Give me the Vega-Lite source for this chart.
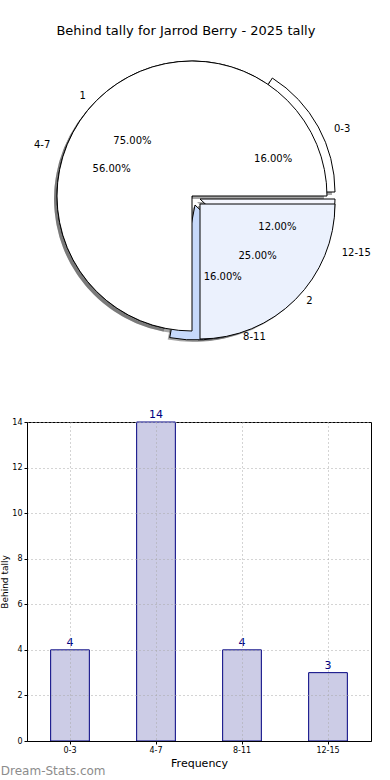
{
  "$schema": "https://vega.github.io/schema/vega-lite/v6.json",
  "padding": {"top": 25, "left": 0, "right": 0, "bottom": 0},
  "bounds": "flush",
  "spacing": 76,
  "title": {"text": "Behind tally for Jarrod Berry - 2025 tally", "fontSize": 13, "font": "DejaVu Sans", "fontWeight": "normal", "color": "black", "offset": 8, "anchor": "middle"},
  "datasets": {
    "outer": [
      {"idx": 1, "label": "0-3", "count": 4, "share": 0.16},
      {"idx": 2, "label": "4-7", "count": 14, "share": 0.56},
      {"idx": 3, "label": "8-11", "count": 4, "share": 0.16},
      {"idx": 4, "label": "12-15", "count": 3, "share": 0.12}
    ],
    "inner": [
      {"idx": 1, "label": "1", "count": 3, "share": 0.75},
      {"idx": 2, "label": "2", "count": 1, "share": 0.25}
    ]
  },
  "config": {"view": {"stroke": null}, "font": "DejaVu Sans"},
  "vconcat": [
    {
      "width": 330,
      "height": 300,
      "resolve": {"scale": {"theta": "independent", "fill": "independent"}},
      "layer": [
        {"data": {"name": "outer"}, "mark": {"type": "arc", "outerRadius": 135, "fill": "#4d4d4d", "xOffset": -3, "yOffset": 3},
         "encoding": {"theta": {"field": "count", "type": "quantitative", "stack": true, "scale": {"range": [1.5707963, -4.712389]}}, "order": {"field": "idx", "type": "quantitative"}, "detail": {"field": "label"},
           "opacity": {"condition": {"test": "datum.label === '4-7'", "value": 0.5}, "value": 0}}},
        {"data": {"name": "outer"}, "mark": {"type": "arc", "outerRadius": 135, "fill": "#4d4d4d", "xOffset": 5, "yOffset": -1},
         "encoding": {"theta": {"field": "count", "type": "quantitative", "stack": true, "scale": {"range": [1.5707963, -4.712389]}}, "order": {"field": "idx", "type": "quantitative"}, "detail": {"field": "label"},
           "opacity": {"condition": {"test": "datum.label === '0-3'", "value": 0.5}, "value": 0}}},
        {"data": {"name": "outer"}, "mark": {"type": "arc", "outerRadius": 135, "fill": "#4d4d4d", "xOffset": 1, "yOffset": 11},
         "encoding": {"theta": {"field": "count", "type": "quantitative", "stack": true, "scale": {"range": [1.5707963, -4.712389]}}, "order": {"field": "idx", "type": "quantitative"}, "detail": {"field": "label"},
           "opacity": {"condition": {"test": "datum.label === '8-11'", "value": 0.5}, "value": 0}}},
        {"data": {"name": "outer"}, "mark": {"type": "arc", "outerRadius": 135, "fill": "#4d4d4d", "xOffset": 5, "yOffset": 6},
         "encoding": {"theta": {"field": "count", "type": "quantitative", "stack": true, "scale": {"range": [1.5707963, -4.712389]}}, "order": {"field": "idx", "type": "quantitative"}, "detail": {"field": "label"},
           "opacity": {"condition": {"test": "datum.label === '12-15'", "value": 0.5}, "value": 0}}},
        {"data": {"name": "inner"}, "mark": {"type": "arc", "outerRadius": 135, "fill": "#4d4d4d", "xOffset": -3, "yOffset": 3},
         "encoding": {"theta": {"field": "count", "type": "quantitative", "stack": true, "scale": {"range": [1.5707963, -4.712389]}}, "order": {"field": "idx", "type": "quantitative"}, "detail": {"field": "label"},
           "opacity": {"condition": {"test": "datum.label === '1'", "value": 0.5}, "value": 0}}},
        {"data": {"name": "inner"}, "mark": {"type": "arc", "outerRadius": 135, "fill": "#4d4d4d", "xOffset": 6, "yOffset": 10},
         "encoding": {"theta": {"field": "count", "type": "quantitative", "stack": true, "scale": {"range": [1.5707963, -4.712389]}}, "order": {"field": "idx", "type": "quantitative"}, "detail": {"field": "label"},
           "opacity": {"condition": {"test": "datum.label === '2'", "value": 0.5}, "value": 0}}},

        {"data": {"name": "outer"}, "mark": {"type": "arc", "outerRadius": 135, "stroke": "black", "strokeWidth": 1},
         "encoding": {"theta": {"field": "count", "type": "quantitative", "stack": true, "scale": {"range": [1.5707963, -4.712389]}}, "order": {"field": "idx", "type": "quantitative"}, "detail": {"field": "label"},
           "fill": {"field": "label", "type": "nominal", "legend": null, "scale": {"domain": ["0-3", "4-7", "8-11", "12-15"], "range": ["#ffffff", "#ffffff", "#c6d9fb", "#f4f6fe"]}},
           "opacity": {"condition": {"test": "datum.label === '4-7'", "value": 1}, "value": 0}}},
        {"data": {"name": "outer"}, "mark": {"type": "arc", "outerRadius": 135, "stroke": "black", "strokeWidth": 1, "xOffset": 8, "yOffset": -4},
         "encoding": {"theta": {"field": "count", "type": "quantitative", "stack": true, "scale": {"range": [1.5707963, -4.712389]}}, "order": {"field": "idx", "type": "quantitative"}, "detail": {"field": "label"},
           "fill": {"field": "label", "type": "nominal", "legend": null, "scale": {"domain": ["0-3", "4-7", "8-11", "12-15"], "range": ["#ffffff", "#ffffff", "#c6d9fb", "#f4f6fe"]}},
           "opacity": {"condition": {"test": "datum.label === '0-3'", "value": 1}, "value": 0}}},
        {"data": {"name": "outer"}, "mark": {"type": "arc", "outerRadius": 135, "stroke": "black", "strokeWidth": 1, "xOffset": 3, "yOffset": 9},
         "encoding": {"theta": {"field": "count", "type": "quantitative", "stack": true, "scale": {"range": [1.5707963, -4.712389]}}, "order": {"field": "idx", "type": "quantitative"}, "detail": {"field": "label"},
           "fill": {"field": "label", "type": "nominal", "legend": null, "scale": {"domain": ["0-3", "4-7", "8-11", "12-15"], "range": ["#ffffff", "#ffffff", "#c6d9fb", "#f4f6fe"]}},
           "opacity": {"condition": {"test": "datum.label === '8-11'", "value": 1}, "value": 0}}},
        {"data": {"name": "outer"}, "mark": {"type": "arc", "outerRadius": 135, "stroke": "black", "strokeWidth": 1, "xOffset": 8, "yOffset": 3},
         "encoding": {"theta": {"field": "count", "type": "quantitative", "stack": true, "scale": {"range": [1.5707963, -4.712389]}}, "order": {"field": "idx", "type": "quantitative"}, "detail": {"field": "label"},
           "fill": {"field": "label", "type": "nominal", "legend": null, "scale": {"domain": ["0-3", "4-7", "8-11", "12-15"], "range": ["#ffffff", "#ffffff", "#c6d9fb", "#f4f6fe"]}},
           "opacity": {"condition": {"test": "datum.label === '12-15'", "value": 1}, "value": 0}}},
        {"data": {"name": "inner"}, "mark": {"type": "arc", "outerRadius": 135, "stroke": "black", "strokeWidth": 1},
         "encoding": {"theta": {"field": "count", "type": "quantitative", "stack": true, "scale": {"range": [1.5707963, -4.712389]}}, "order": {"field": "idx", "type": "quantitative"}, "detail": {"field": "label"},
           "fill": {"field": "label", "type": "nominal", "legend": null, "scale": {"domain": ["1", "2"], "range": ["#ffffff", "#ebf1fd"]}},
           "opacity": {"condition": {"test": "datum.label === '1'", "value": 1}, "value": 0}}},
        {"data": {"name": "inner"}, "mark": {"type": "arc", "outerRadius": 135, "stroke": "black", "strokeWidth": 1, "xOffset": 8, "yOffset": 8},
         "encoding": {"theta": {"field": "count", "type": "quantitative", "stack": true, "scale": {"range": [1.5707963, -4.712389]}}, "order": {"field": "idx", "type": "quantitative"}, "detail": {"field": "label"},
           "fill": {"field": "label", "type": "nominal", "legend": null, "scale": {"domain": ["1", "2"], "range": ["#ffffff", "#ebf1fd"]}},
           "opacity": {"condition": {"test": "datum.label === '2'", "value": 1}, "value": 0}}},

        {"data": {"name": "outer"}, "mark": {"type": "text", "radius": 146, "align": "right", "baseline": "middle", "fontSize": 10, "color": "black", "dx": -6, "dy": 3},
         "encoding": {"theta": {"field": "count", "type": "quantitative", "stack": true, "scale": {"range": [1.5707963, -4.712389]}}, "order": {"field": "idx", "type": "quantitative"}, "detail": {"field": "label"},
           "text": {"condition": {"test": "datum.label === '4-7'", "field": "label", "type": "nominal"}, "value": ""}}},
        {"data": {"name": "outer"}, "mark": {"type": "text", "radius": 146, "align": "left", "baseline": "middle", "fontSize": 10, "color": "black", "dx": 14, "dy": 3},
         "encoding": {"theta": {"field": "count", "type": "quantitative", "stack": true, "scale": {"range": [1.5707963, -4.712389]}}, "order": {"field": "idx", "type": "quantitative"}, "detail": {"field": "label"},
           "text": {"condition": {"test": "datum.label === '0-3'", "field": "label", "type": "nominal"}, "value": ""}}},
        {"data": {"name": "outer"}, "mark": {"type": "text", "radius": 146, "align": "left", "baseline": "middle", "fontSize": 10, "color": "black", "dx": 6, "dy": 2},
         "encoding": {"theta": {"field": "count", "type": "quantitative", "stack": true, "scale": {"range": [1.5707963, -4.712389]}}, "order": {"field": "idx", "type": "quantitative"}, "detail": {"field": "label"},
           "text": {"condition": {"test": "datum.label === '8-11'", "field": "label", "type": "nominal"}, "value": ""}}},
        {"data": {"name": "outer"}, "mark": {"type": "text", "radius": 146, "align": "left", "baseline": "middle", "fontSize": 10, "color": "black", "dx": 14, "dy": 3},
         "encoding": {"theta": {"field": "count", "type": "quantitative", "stack": true, "scale": {"range": [1.5707963, -4.712389]}}, "order": {"field": "idx", "type": "quantitative"}, "detail": {"field": "label"},
           "text": {"condition": {"test": "datum.label === '12-15'", "field": "label", "type": "nominal"}, "value": ""}}},
        {"data": {"name": "inner"}, "mark": {"type": "text", "radius": 146, "align": "right", "baseline": "middle", "fontSize": 10, "color": "black", "dx": -3, "dy": 3},
         "encoding": {"theta": {"field": "count", "type": "quantitative", "stack": true, "scale": {"range": [1.5707963, -4.712389]}}, "order": {"field": "idx", "type": "quantitative"}, "detail": {"field": "label"},
           "text": {"condition": {"test": "datum.label === '1'", "field": "label", "type": "nominal"}, "value": ""}}},
        {"data": {"name": "inner"}, "mark": {"type": "text", "radius": 146, "align": "left", "baseline": "middle", "fontSize": 10, "color": "black", "dx": 11, "dy": 2},
         "encoding": {"theta": {"field": "count", "type": "quantitative", "stack": true, "scale": {"range": [1.5707963, -4.712389]}}, "order": {"field": "idx", "type": "quantitative"}, "detail": {"field": "label"},
           "text": {"condition": {"test": "datum.label === '2'", "field": "label", "type": "nominal"}, "value": ""}}},

        {"data": {"name": "outer"}, "mark": {"type": "text", "radius": 80, "align": "center", "baseline": "middle", "fontSize": 10, "color": "black", "dx": -6, "dy": 2},
         "encoding": {"theta": {"field": "count", "type": "quantitative", "stack": true, "scale": {"range": [1.5707963, -4.712389]}}, "order": {"field": "idx", "type": "quantitative"}, "detail": {"field": "label"},
           "text": {"condition": {"test": "datum.label === '4-7'", "field": "share", "type": "quantitative", "format": ".2%"}, "value": ""}}},
        {"data": {"name": "outer"}, "mark": {"type": "text", "radius": 80, "align": "center", "baseline": "middle", "fontSize": 10, "color": "black", "dx": 11, "dy": 2},
         "encoding": {"theta": {"field": "count", "type": "quantitative", "stack": true, "scale": {"range": [1.5707963, -4.712389]}}, "order": {"field": "idx", "type": "quantitative"}, "detail": {"field": "label"},
           "text": {"condition": {"test": "datum.label === '0-3'", "field": "share", "type": "quantitative", "format": ".2%"}, "value": ""}}},
        {"data": {"name": "outer"}, "mark": {"type": "text", "radius": 80, "align": "center", "baseline": "middle", "fontSize": 10, "color": "black", "dx": 6, "dy": 5},
         "encoding": {"theta": {"field": "count", "type": "quantitative", "stack": true, "scale": {"range": [1.5707963, -4.712389]}}, "order": {"field": "idx", "type": "quantitative"}, "detail": {"field": "label"},
           "text": {"condition": {"test": "datum.label === '8-11'", "field": "share", "type": "quantitative", "format": ".2%"}, "value": ""}}},
        {"data": {"name": "outer"}, "mark": {"type": "text", "radius": 80, "align": "center", "baseline": "middle", "fontSize": 10, "color": "black", "dx": 11, "dy": 2},
         "encoding": {"theta": {"field": "count", "type": "quantitative", "stack": true, "scale": {"range": [1.5707963, -4.712389]}}, "order": {"field": "idx", "type": "quantitative"}, "detail": {"field": "label"},
           "text": {"condition": {"test": "datum.label === '12-15'", "field": "share", "type": "quantitative", "format": ".2%"}, "value": ""}}},
        {"data": {"name": "inner"}, "mark": {"type": "text", "radius": 80, "align": "center", "baseline": "middle", "fontSize": 10, "color": "black", "dx": -3, "dy": 2},
         "encoding": {"theta": {"field": "count", "type": "quantitative", "stack": true, "scale": {"range": [1.5707963, -4.712389]}}, "order": {"field": "idx", "type": "quantitative"}, "detail": {"field": "label"},
           "text": {"condition": {"test": "datum.label === '1'", "field": "share", "type": "quantitative", "format": ".2%"}, "value": ""}}},
        {"data": {"name": "inner"}, "mark": {"type": "text", "radius": 80, "align": "center", "baseline": "middle", "fontSize": 10, "color": "black", "dx": 9, "dy": 3},
         "encoding": {"theta": {"field": "count", "type": "quantitative", "stack": true, "scale": {"range": [1.5707963, -4.712389]}}, "order": {"field": "idx", "type": "quantitative"}, "detail": {"field": "label"},
           "text": {"condition": {"test": "datum.label === '2'", "field": "share", "type": "quantitative", "format": ".2%"}, "value": ""}}}
      ]
    },
    {
      "width": 344,
      "height": 319,
      "data": {"name": "outer"},
      "view": {"stroke": "black", "strokeWidth": 1},
      "title": {"text": "Dream-Stats.com", "orient": "bottom", "anchor": "start", "frame": "bounds", "fontSize": 12, "fontWeight": "normal", "color": "#8c8c8c", "font": "DejaVu Sans", "offset": -2},
      "encoding": {
        "x": {"field": "label", "type": "nominal", "sort": null,
          "scale": {"paddingInner": 0.55, "paddingOuter": 0.275},
          "axis": {"title": "Frequency", "zindex": 1, "labelAngle": 0, "labelFontSize": 8, "labelColor": "black", "tickSize": 3, "tickColor": "black", "domainColor": "black", "titleFontSize": 11, "titleFontWeight": "normal", "titleColor": "black", "titlePadding": 3, "grid": true, "gridDash": [1, 3], "gridColor": "#a8a8a8"}},
        "y": {"field": "count", "type": "quantitative",
          "scale": {"domain": [0, 14], "nice": false},
          "axis": {"title": "Behind tally", "zindex": 1, "values": [0, 2, 4, 6, 8, 10, 12, 14], "labelFontSize": 8, "labelColor": "black", "tickSize": 3, "tickColor": "black", "domainColor": "black", "titleFontSize": 9, "titleFontWeight": "normal", "titleColor": "black", "titlePadding": 2, "labelPadding": 2, "grid": true, "gridDash": [1, 3], "gridColor": "#a8a8a8"}}
      },
      "layer": [
        {"mark": {"type": "bar", "fill": "#ccccE6", "stroke": "#000080", "strokeWidth": 1}},
        {"mark": {"type": "text", "baseline": "bottom", "dy": -2, "color": "#000080", "fontSize": 11}, "encoding": {"text": {"field": "count", "type": "quantitative"}}}
      ]
    }
  ]
}
